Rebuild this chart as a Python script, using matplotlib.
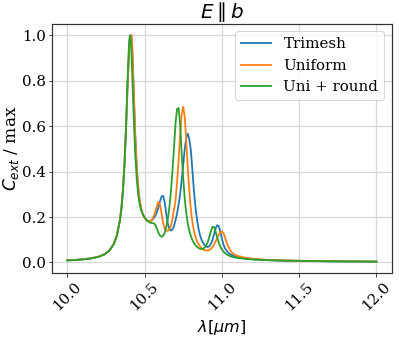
import matplotlib
matplotlib.use("Agg")
import matplotlib.pyplot as plt

wavelength = [10.00, 10.05, 10.10, 10.15, 10.20, 10.24, 10.27, 10.30, 10.32, 10.34,
              10.35, 10.36, 10.37, 10.38, 10.39, 10.40, 10.405, 10.41, 10.415, 10.42,
              10.43, 10.44, 10.45, 10.46, 10.47, 10.48, 10.49,
              10.50, 10.51, 10.52, 10.53, 10.54, 10.55, 10.56, 10.57, 10.58, 10.59,
              10.60, 10.61, 10.62, 10.63, 10.64, 10.65, 10.66, 10.67, 10.68, 10.69,
              10.70, 10.71, 10.72, 10.73, 10.74, 10.75, 10.76, 10.77, 10.78, 10.79,
              10.80, 10.81, 10.82, 10.83, 10.84, 10.85, 10.86, 10.87, 10.88, 10.89,
              10.90, 10.91, 10.92, 10.93, 10.94, 10.95, 10.96, 10.97, 10.98, 10.99,
              11.00, 11.01, 11.02, 11.03, 11.04, 11.05, 11.06, 11.07, 11.08, 11.09,
              11.10, 11.15, 11.20, 11.30, 11.40, 11.50, 11.60, 11.70, 11.80, 11.90, 12.00]

trimesh = [0.009, 0.011, 0.014, 0.018, 0.025, 0.036, 0.051, 0.081, 0.118, 0.186,
           0.24, 0.32, 0.435, 0.59, 0.78, 0.935, 0.975, 0.995, 1.0, 0.95,
           0.75, 0.55, 0.41, 0.32, 0.265, 0.23, 0.21,
           0.197, 0.188, 0.183, 0.181, 0.183, 0.188, 0.196, 0.207, 0.222, 0.243,
           0.27, 0.29, 0.293, 0.265, 0.215, 0.172, 0.148, 0.14, 0.145, 0.16,
           0.185, 0.215, 0.255, 0.30, 0.36, 0.43, 0.50, 0.55, 0.567, 0.54,
           0.49, 0.40, 0.31, 0.24, 0.185, 0.145, 0.117, 0.097, 0.084, 0.075,
           0.07, 0.068, 0.072, 0.083, 0.10, 0.125, 0.15, 0.164, 0.16, 0.135,
           0.105, 0.08, 0.063, 0.052, 0.044, 0.038, 0.034, 0.031, 0.028, 0.026,
           0.024, 0.018, 0.014, 0.010, 0.008, 0.007, 0.006, 0.005, 0.0045, 0.004, 0.0035]

uniform = [0.009, 0.011, 0.014, 0.018, 0.025, 0.036, 0.051, 0.081, 0.118, 0.186,
           0.24, 0.32, 0.435, 0.59, 0.78, 0.935, 0.975, 0.995, 1.0, 0.95,
           0.75, 0.55, 0.41, 0.32, 0.265, 0.23, 0.21,
           0.197, 0.188, 0.182, 0.18, 0.182, 0.19, 0.205, 0.225, 0.25, 0.266,
           0.255, 0.215, 0.175, 0.15, 0.14, 0.139, 0.145, 0.16, 0.19, 0.23,
           0.27, 0.35, 0.45, 0.56, 0.65, 0.685, 0.64, 0.53, 0.41, 0.31,
           0.23, 0.175, 0.138, 0.112, 0.093, 0.080, 0.070, 0.062, 0.057, 0.054,
           0.053, 0.053, 0.055, 0.06, 0.068, 0.079, 0.093, 0.108, 0.123, 0.133,
           0.136, 0.13, 0.112, 0.09, 0.072, 0.058, 0.048, 0.041, 0.036, 0.032,
           0.029, 0.021, 0.016, 0.011, 0.009, 0.0075, 0.0065, 0.0055, 0.005, 0.0045, 0.004]

uni_round = [0.009, 0.010, 0.013, 0.017, 0.024, 0.035, 0.050, 0.079, 0.115, 0.181,
             0.234, 0.313, 0.43, 0.596, 0.807, 0.975, 1.0, 0.98, 0.92, 0.83,
             0.63, 0.47, 0.36, 0.29, 0.25, 0.225, 0.21,
             0.198, 0.19, 0.182, 0.177, 0.174, 0.173, 0.172, 0.165, 0.148, 0.13,
             0.118, 0.113, 0.117, 0.13, 0.155, 0.19, 0.24, 0.31, 0.40, 0.50,
             0.61, 0.675, 0.68, 0.61, 0.48, 0.37, 0.28, 0.215, 0.17, 0.138,
             0.115, 0.098, 0.085, 0.075, 0.068, 0.063, 0.06, 0.059, 0.061, 0.066,
             0.076, 0.092, 0.115, 0.14, 0.157, 0.155, 0.135, 0.11, 0.088, 0.07,
             0.057, 0.048, 0.041, 0.036, 0.032, 0.029, 0.026, 0.024, 0.022, 0.021,
             0.02, 0.016, 0.013, 0.010, 0.008, 0.007, 0.006, 0.005, 0.0045, 0.004, 0.0035]

series_labels = ["Trimesh", "Uniform", "Uni + round"]
series_colors = ["#1f77b4", "#ff7f0e", "#2ca02c"]
xticks = [10.0, 10.5, 11.0, 11.5, 12.0]
yticks = [0.0, 0.2, 0.4, 0.6, 0.8, 1.0]

plt.rcParams['font.family'] = ['DejaVu Serif']
plt.rcParams['mathtext.fontset'] = 'dejavusans'

DPI = 72
fig = plt.figure(figsize=(399 / DPI, 337 / DPI), dpi=DPI)
ax = fig.add_axes([0.130, 0.190, 0.852, 0.739])

for ys, lab, col in zip([trimesh, uniform, uni_round], series_labels, series_colors):
    ax.plot(wavelength, ys, color=col, lw=1.8, label=lab)

ax.set_xticks(xticks)
ax.set_yticks(yticks)
ax.tick_params(axis='both', labelsize=15, color='#444444', width=1.0)
ax.tick_params(axis='y', pad=2.5)
plt.setp(ax.get_xticklabels(), rotation=45)
ax.grid(True, color='#d8d8d8', lw=1.3)
ax.set_axisbelow(True)
for s in ax.spines.values():
    s.set_color('#333333')
    s.set_linewidth(1.2)
ax.set_xlabel(r'$\lambda[\mu m]$', fontsize=16)
ax.set_ylabel(r'$C_{ext}$ / max', fontsize=17)
ax.yaxis.set_label_coords(-0.092, 0.5)
ax.set_title(r'$E \parallel b$', fontsize=20, pad=3)
ax.legend(loc='upper right', fontsize=15, borderaxespad=0.5)

fig.savefig('out.png', dpi=DPI)
